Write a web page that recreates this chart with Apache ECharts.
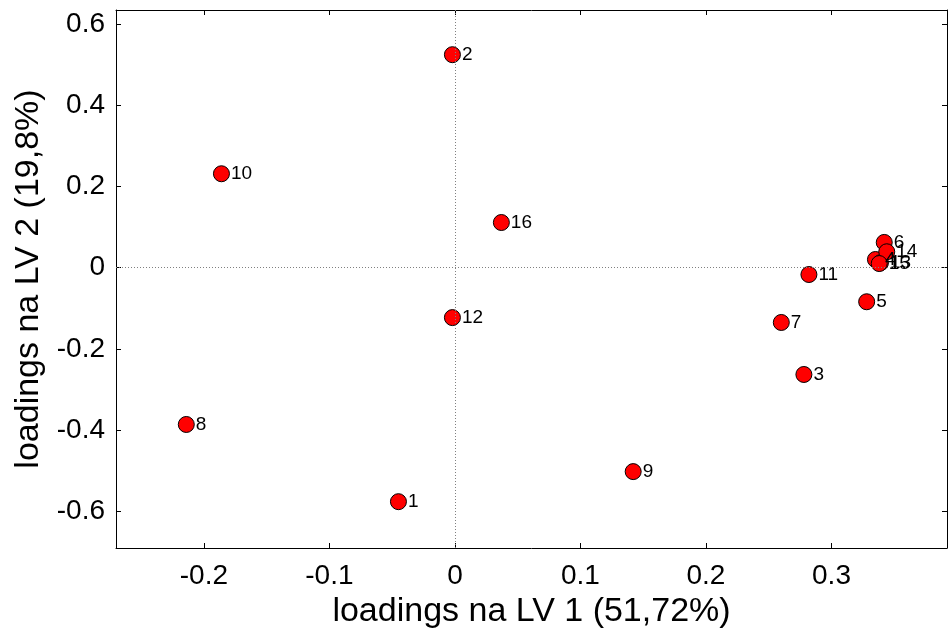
<!DOCTYPE html>
<html>
<head>
<meta charset="utf-8">
<script src="https://cdn.jsdelivr.net/npm/echarts@6/dist/echarts.min.js"></script>
<style>
html,body{margin:0;padding:0;background:#fff;}
#c{width:948px;height:628px;}
</style>
</head>
<body>
<div id="c"></div>
<script>
// Variable labels and their loadings
const labels = ['1','2','3','4','5','6','7','8','9','10','11','12','13','14','15','16'];
const lv1 = [-0.045, -0.002, 0.278, 0.335, 0.328, 0.342, 0.260, -0.214, 0.142, -0.186, 0.282, -0.002, 0.339, 0.344, 0.338, 0.037];
const lv2 = [-0.576, 0.524, -0.263, 0.020, -0.084, 0.062, -0.135, -0.386, -0.502, 0.231, -0.017, -0.123, 0.012, 0.039, 0.010, 0.111];
const xTicks = [-0.2, -0.1, 0, 0.1, 0.2, 0.3];
const yTicks = [-0.6, -0.4, -0.2, 0, 0.2, 0.4, 0.6];
const xRange = [-0.27, 0.392];
const yRange = [-0.69, 0.634];
const xTitle = 'loadings na LV 1 (51,72%)';
const yTitle = 'loadings na LV 2 (19,8%)';

const FONT = 'Liberation Sans, Arial, sans-serif';
const points = labels.map((n, i) => ({ name: n, value: [lv1[i], lv2[i]] }));

const axisLineStyle = { show: true, onZero: false, lineStyle: { color: '#000', width: 1 } };
const chart = echarts.init(document.getElementById('c'), null, { renderer: 'canvas' });
chart.setOption({
  animation: false,
  backgroundColor: '#fff',
  grid: { left: 116, right: 1, top: 10, bottom: 80, containLabel: false, outerBoundsMode: 'none' },
  xAxis: [{
    type: 'value', position: 'bottom', min: xRange[0], max: xRange[1],
    axisLine: axisLineStyle,
    axisTick: { show: true, inside: true, length: 5, customValues: xTicks, lineStyle: { color: '#000' } },
    axisLabel: { show: true, customValues: xTicks, margin: 14, fontSize: 28, fontFamily: FONT, color: '#000' },
    splitLine: { show: false },
    name: xTitle, nameLocation: 'middle', nameGap: 42,
    nameTextStyle: { fontSize: 34, fontFamily: FONT, color: '#000' }
  }, {
    type: 'value', position: 'top', min: xRange[0], max: xRange[1],
    axisLine: axisLineStyle,
    axisTick: { show: true, inside: true, length: 5, customValues: xTicks, lineStyle: { color: '#000' } },
    axisLabel: { show: false },
    splitLine: { show: false }
  }],
  yAxis: [{
    type: 'value', position: 'left', min: yRange[0], max: yRange[1],
    axisLine: axisLineStyle,
    axisTick: { show: true, inside: true, length: 5, customValues: yTicks, lineStyle: { color: '#000' } },
    axisLabel: { show: true, customValues: yTicks, margin: 11, fontSize: 28, fontFamily: FONT, color: '#000' },
    splitLine: { show: false },
    name: yTitle, nameLocation: 'middle', nameGap: 66,
    nameTextStyle: { fontSize: 34, fontFamily: FONT, color: '#000' }
  }, {
    type: 'value', position: 'right', min: yRange[0], max: yRange[1],
    axisLine: axisLineStyle,
    axisTick: { show: true, inside: true, length: 5, customValues: yTicks, lineStyle: { color: '#000' } },
    axisLabel: { show: false },
    splitLine: { show: false }
  }],
  series: [{
    type: 'scatter',
    xAxisIndex: 0, yAxisIndex: 0,
    data: points,
    symbol: 'circle',
    symbolSize: 16,
    itemStyle: { color: '#ff0000', borderColor: '#000', borderWidth: 1, opacity: 1 },
    label: {
      show: true, position: 'right', distance: 1,
      formatter: p => p.name,
      fontSize: 19, fontFamily: FONT, color: '#000'
    },
    labelLayout: { hideOverlap: false },
    emphasis: { disabled: true },
    markLine: {
      silent: true, symbol: 'none', animation: false,
      label: { show: false },
      lineStyle: { color: '#808080', type: [1, 2], width: 1 },
      data: [{ xAxis: 0 }, { yAxis: 0 }]
    },
    z: 3
  }]
});
</script>
</body>
</html>
